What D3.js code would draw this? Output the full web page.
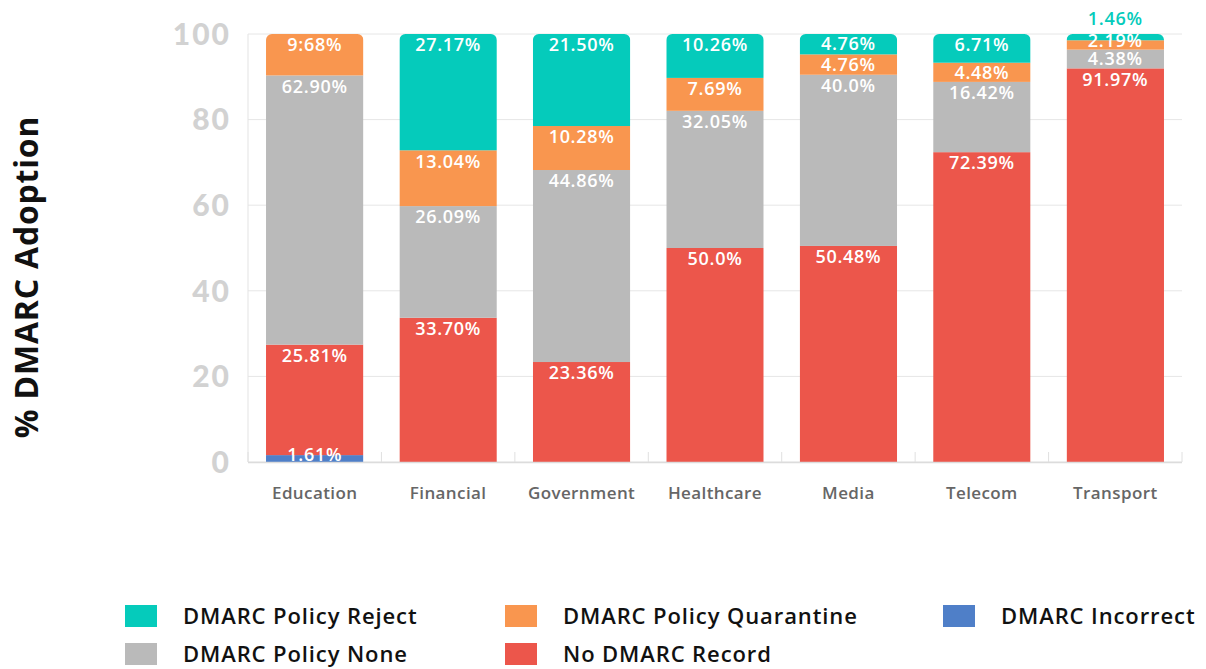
<!DOCTYPE html>
<html><head><meta charset="utf-8">
<script src="https://cdn.jsdelivr.net/npm/d3@7"></script>
<style>body{margin:0;background:#fff}svg{display:block}</style>
</head><body>
<svg id="c" width="1206" height="669"></svg>
<script>
const categories = ["Education","Financial","Government","Healthcare","Media","Telecom","Transport"];
const seriesNames = ["DMARC Incorrect","No DMARC Record","DMARC Policy None","DMARC Policy Quarantine","DMARC Policy Reject"];
const incorrect = [1.61,0,0,0,0,0,0];
const noRecord = [25.81,33.70,23.36,50.0,50.48,72.39,91.97];
const policyNone = [62.90,26.09,44.86,32.05,40.0,16.42,4.38];
const quarantine = [9.68,13.04,10.28,7.69,4.76,4.48,2.19];
const reject = [0,27.17,21.50,10.26,4.76,6.71,1.46];
const incorrectLabels = ["1.61%","","","","","",""];
const noRecordLabels = ["25.81%","33.70%","23.36%","50.0%","50.48%","72.39%","91.97%"];
const noneLabels = ["62.90%","26.09%","44.86%","32.05%","40.0%","16.42%","4.38%"];
const quarantineLabels = ["9:68%","13.04%","10.28%","7.69%","4.76%","4.48%","2.19%"];
const rejectLabels = ["","27.17%","21.50%","10.26%","4.76%","6.71%","1.46%"];
const yTicks = [0,20,40,60,80,100];
const colors = ["#4f7fc8","#ec564b","#bababa","#f9964f","#05cbbb"];
const legendOrder = [4,3,0,2,1];

const seriesVals = [incorrect,noRecord,policyNone,quarantine,reject];
const seriesLabels = [incorrectLabels,noRecordLabels,noneLabels,quarantineLabels,rejectLabels];
const rows = categories.map((c,i)=>{const o={cat:c,i};seriesNames.forEach((s,k)=>o[s]=seriesVals[k][i]);return o;});
const stacked = d3.stack().keys(seriesNames)(rows);

const svg = d3.select("#c");
const x = d3.scaleBand().domain(categories).range([248,1182]).paddingInner(0.27).paddingOuter(0.135);
const y = d3.scaleLinear().domain([0,100]).range([462,34]);

svg.append("g").selectAll("line").data(yTicks).join("line")
  .attr("x1",248).attr("x2",1182).attr("y1",d=>y(d)).attr("y2",d=>y(d))
  .attr("stroke","#e6e6e6").attr("stroke-width",1);
svg.append("line").attr("x1",248).attr("x2",248).attr("y1",y(100)).attr("y2",y(0)).attr("stroke","#e3e3e3");
svg.append("g").selectAll("text").data(yTicks).join("text")
  .attr("x",231).attr("y",d=>y(d)).attr("dy","0.36em").attr("text-anchor","end")
  .attr("font-family","Lato, 'Open Sans', sans-serif").attr("font-weight",900).attr("font-size",30)
  .attr("letter-spacing",2).attr("fill","#d2d2d2").text(d=>d);

const defs = svg.append("defs");
categories.forEach((c,i)=>{
  const top = d3.max(stacked,s=>s[i][1]);
  defs.append("clipPath").attr("id","clip"+i).append("rect")
    .attr("x",x(c)).attr("y",y(top)).attr("width",x.bandwidth()).attr("height",y(0)-y(top)+10).attr("rx",6);
});
const layers = svg.append("g").selectAll("g").data(stacked).join("g").attr("fill",(d,k)=>colors[k]);
layers.selectAll("rect").data(d=>d).join("rect")
  .attr("clip-path",(d,i)=>`url(#clip${i})`)
  .attr("x",d=>x(d.data.cat)).attr("width",x.bandwidth())
  .attr("y",d=>y(d[1])).attr("height",d=>y(d[0])-y(d[1]));

svg.append("line").attr("x1",248).attr("x2",1182).attr("y1",y(0)+0.5).attr("y2",y(0)+0.5).attr("stroke","#dcdcdc").attr("stroke-width",1.5);
const bounds = categories.map(c=>x(c)-x.step()*x.paddingInner()/2);
bounds.push(1182);
svg.append("g").selectAll("line").data(bounds).join("line")
  .attr("x1",d=>d).attr("x2",d=>d).attr("y1",y(0)-10).attr("y2",y(0)).attr("stroke","#e0e0e0");
svg.append("g").selectAll("text").data(categories).join("text")
  .attr("x",d=>x(d)+x.bandwidth()/2).attr("y",493).attr("dy","0.35em").attr("text-anchor","middle")
  .attr("font-family","'Open Sans', sans-serif").attr("font-weight",600).attr("font-size",17)
  .attr("letter-spacing",0.4).attr("fill","#666").text(d=>d);

const lbl = svg.append("g").attr("font-family","'Open Sans', sans-serif").attr("font-weight",600)
  .attr("font-size",18).attr("letter-spacing",0.7).attr("text-anchor","middle");
categories.forEach((c,i)=>{
  const cx = x(c)+x.bandwidth()/2;
  let prev = Infinity;
  stacked.forEach((s,k)=>{
    const d = s[i];
    const t = seriesLabels[k][i];
    if(!t) return;
    const h = y(d[0])-y(d[1]);
    let ty, fill="#fff";
    if(k===0) ty = y(0)-7;
    else if(k===4 && h<8){ ty = y(d[1])-15; fill=colors[4]; }
    else ty = y(d[1]) + Math.min(11, Math.max(8, h/2));
    if(k!==0) ty = Math.min(ty, prev-18);
    prev = ty;
    lbl.append("text").attr("x",cx).attr("y",ty).attr("dy","0.35em").attr("fill",fill).text(t);
  });
});

svg.append("text").attr("transform","translate(27,277) rotate(-90)").attr("text-anchor","middle")
  .attr("dy","0.35em").attr("font-family","'Open Sans', sans-serif").attr("font-weight",700)
  .attr("font-size",32).attr("letter-spacing",0.8).attr("fill","#111").text("% DMARC Adoption");

const legPos = [[125,616],[505,616],[943,616],[125,654],[505,654]];
const leg = svg.append("g").selectAll("g").data(legendOrder).join("g")
  .attr("transform",(d,j)=>`translate(${legPos[j][0]},${legPos[j][1]})`);
leg.append("rect").attr("x",0).attr("y",-11).attr("width",32).attr("height",22).attr("fill",d=>colors[d]);
leg.append("text").attr("x",58).attr("y",0).attr("dy","0.35em")
  .attr("font-family","'Open Sans', sans-serif").attr("font-weight",600).attr("font-size",22)
  .attr("letter-spacing",0.9).attr("fill","#111").text(d=>seriesNames[d]);
</script>
</body></html>
